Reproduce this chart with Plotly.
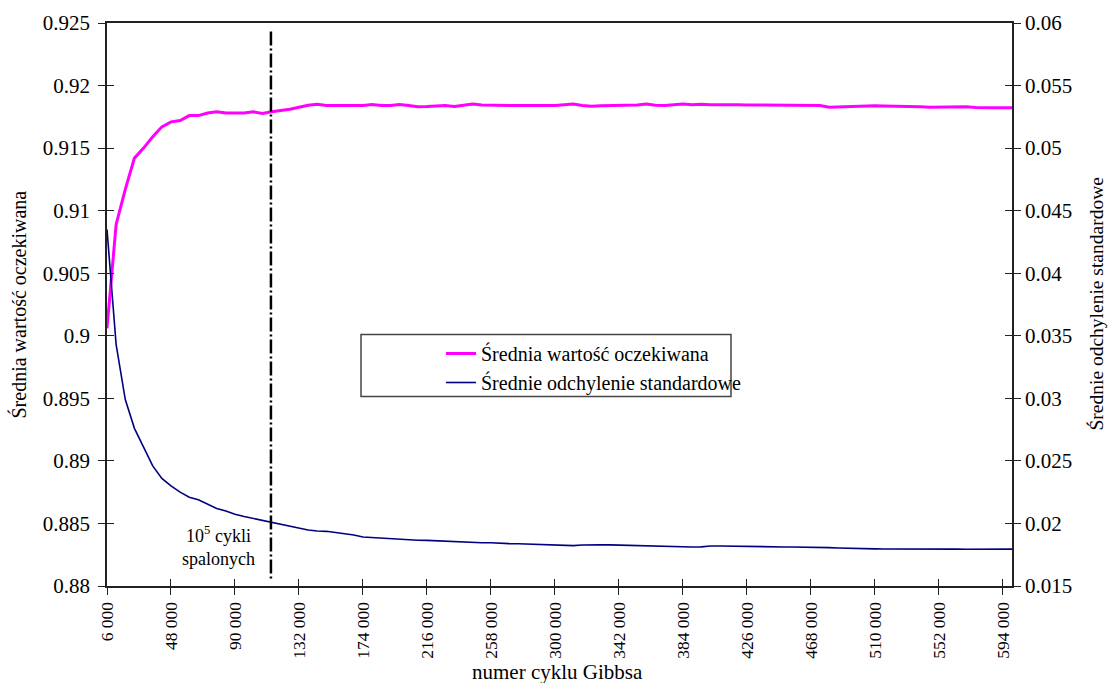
import plotly.graph_objects as go

# Gibbs sampler cycle numbers (every 6000 cycles)
cycles = list(range(6000, 600001, 6000))

# Mean of the expected value per cycle checkpoint
mean_expected = [
    0.9006, 0.9089, 0.9117, 0.9142, 0.9150, 0.9159, 0.9167, 0.9171, 0.9172, 0.9176,
    0.9176, 0.9178, 0.9179, 0.9178, 0.9178, 0.9178, 0.9179, 0.91776, 0.9179, 0.9180,
    0.9181, 0.91827, 0.91843, 0.9185, 0.9184, 0.9184, 0.9184, 0.91845, 0.9184, 0.91848,
    0.9184, 0.9184, 0.91848, 0.9184, 0.9183, 0.91832, 0.91838, 0.9184, 0.91832, 0.9184,
    0.91853, 0.91845, 0.91842, 0.91842, 0.9184, 0.9184, 0.91838, 0.9184, 0.9184, 0.9184,
    0.91845, 0.91853, 0.9184, 0.91835, 0.91838, 0.9184, 0.9184, 0.91843, 0.91845, 0.91853,
    0.91843, 0.9184, 0.91845, 0.91853, 0.91847, 0.9185, 0.91846, 0.91844, 0.91846, 0.91846,
    0.91845, 0.91845, 0.91843, 0.91843, 0.91842, 0.91842, 0.9184, 0.9184, 0.9184, 0.91826,
    0.91828, 0.91836, 0.91838, 0.9184, 0.91838, 0.91836, 0.91836, 0.91836, 0.91834, 0.9183,
    0.91826, 0.91826, 0.91828, 0.91832, 0.9183, 0.91824, 0.9182, 0.91822, 0.91822, 0.91822,
]

# Mean standard deviation per cycle checkpoint
mean_std = [
    0.0435, 0.0343, 0.0299, 0.0276, 0.0261, 0.0246, 0.0236, 0.0230, 0.0225, 0.0221,
    0.0219, 0.02154, 0.0212, 0.0210, 0.02074, 0.02055, 0.0204, 0.02026, 0.0201, 0.01994,
    0.01975, 0.01964, 0.01948, 0.0194, 0.01937, 0.01927, 0.01919, 0.01908, 0.01892, 0.01887,
    0.01886, 0.01876, 0.01871, 0.01869, 0.01866, 0.01865, 0.01862, 0.0186, 0.01858, 0.01849,
    0.01847, 0.01846, 0.01846, 0.01841, 0.01839, 0.01838, 0.01836, 0.01835, 0.01834, 0.01832,
    0.01828, 0.01823, 0.01828, 0.01831, 0.0183, 0.01829, 0.01827, 0.01826, 0.01822, 0.01818,
    0.01817, 0.01815, 0.01813, 0.01812, 0.01812, 0.01813, 0.0182, 0.0182, 0.01818, 0.01816,
    0.01815, 0.01815, 0.01814, 0.01813, 0.01812, 0.01812, 0.01812, 0.01811, 0.01809, 0.01807,
    0.01804, 0.01801, 0.01799, 0.01798, 0.01797, 0.01796, 0.01796, 0.01797, 0.018, 0.01801,
    0.018, 0.01798, 0.01797, 0.01795, 0.01794, 0.01794, 0.01794, 0.01794, 0.01794, 0.01795,
]

x_tick_vals = [6000, 48000, 90000, 132000, 174000, 216000, 258000, 300000,
               342000, 384000, 426000, 468000, 510000, 552000, 594000]
x_tick_text = ["6 000", "48 000", "90 000", "132 000", "174 000", "216 000", "258 000",
               "300 000", "342 000", "384 000", "426 000", "468 000", "510 000",
               "552 000", "594 000"]
left_ticks = [0.88, 0.885, 0.89, 0.895, 0.9, 0.905, 0.91, 0.915, 0.92, 0.925]
left_text = ["0.88", "0.885", "0.89", "0.895", "0.9", "0.905", "0.91", "0.915", "0.92", "0.925"]
right_ticks = [0.015, 0.02, 0.025, 0.03, 0.035, 0.04, 0.045, 0.05, 0.055, 0.06]
right_text = ["0.015", "0.02", "0.025", "0.03", "0.035", "0.04", "0.045", "0.05", "0.055", "0.06"]

burn_in_cycle = 113600

FONT = "Liberation Serif"
AX = "#222222"
X_RANGE = [6000, 600000]
L_RANGE = [0.88, 0.925]
R_RANGE = [0.015, 0.06]

fig = go.Figure()
fig.add_trace(go.Scatter(
    x=cycles, y=mean_expected, mode="lines", name="Średnia wartość oczekiwana",
    line=dict(color="#FF00FF", width=3), xaxis="x", yaxis="y",
))
fig.add_trace(go.Scatter(
    x=cycles, y=mean_std, mode="lines", name="Średnie odchylenie standardowe",
    line=dict(color="#000080", width=1.6), xaxis="x", yaxis="y2",
))
# empty traces that carry the inner halves of the crossing tick marks
fig.add_trace(go.Scatter(x=[None], y=[None], xaxis="x2", yaxis="y3", showlegend=False, hoverinfo="skip"))
fig.add_trace(go.Scatter(x=[None], y=[None], xaxis="x2", yaxis="y4", showlegend=False, hoverinfo="skip"))

tick_font = dict(family=FONT, size=21, color="black")

fig.update_layout(
    width=1108, height=683,
    margin=dict(l=107, r=96, t=23, b=97),
    paper_bgcolor="white", plot_bgcolor="white",
    font=dict(family=FONT, color="black"),
    showlegend=True,
    legend=dict(
        x=(441 - 107) / 905, y=(586 - 334) / 563, xanchor="left", yanchor="top",
        bgcolor="rgba(0,0,0,0)", borderwidth=0,
        font=dict(family=FONT, size=20, color="black"),
        tracegroupgap=0,
    ),
    xaxis=dict(
        range=X_RANGE, tickmode="array", tickvals=x_tick_vals, ticktext=x_tick_text,
        tickangle=-90, tickfont=dict(family=FONT, size=17.5, color="black"),
        ticks="outside", ticklen=7, tickwidth=1.3, tickcolor=AX,
        showline=True, linecolor=AX, linewidth=1.8, mirror=True,
        showgrid=False, zeroline=False,
    ),
    xaxis2=dict(
        range=X_RANGE, overlaying="x", anchor="y3", tickmode="array", tickvals=x_tick_vals,
        ticks="inside", ticklen=7, tickwidth=1.3, tickcolor=AX,
        showticklabels=False, showline=False, showgrid=False, zeroline=False,
    ),
    yaxis=dict(
        range=L_RANGE, tickmode="array", tickvals=left_ticks, ticktext=left_text,
        tickfont=tick_font, ticks="outside", ticklen=7, tickwidth=1.3, tickcolor=AX,
        ticklabelstandoff=4,
        showline=True, linecolor=AX, linewidth=1.8, showgrid=False, zeroline=False,
    ),
    yaxis2=dict(
        range=R_RANGE, overlaying="y", side="right", tickmode="array",
        tickvals=right_ticks, ticktext=right_text,
        tickfont=tick_font, ticks="outside", ticklen=7, tickwidth=1.3, tickcolor=AX,
        showline=True, linecolor=AX, linewidth=1.8, showgrid=False, zeroline=False,
    ),
    yaxis3=dict(
        range=L_RANGE, overlaying="y", side="left", anchor="x2", tickmode="array",
        tickvals=left_ticks, ticks="inside", ticklen=7, tickwidth=1.3, tickcolor=AX,
        showticklabels=False, showline=False, showgrid=False, zeroline=False,
    ),
    yaxis4=dict(
        range=R_RANGE, overlaying="y", side="right", anchor="x2", tickmode="array",
        tickvals=right_ticks, ticks="inside", ticklen=7, tickwidth=1.3, tickcolor=AX,
        showticklabels=False, showline=False, showgrid=False, zeroline=False,
    ),
)

# burn-in boundary
fig.add_shape(
    type="line", xref="x", yref="paper", x0=burn_in_cycle, x1=burn_in_cycle,
    y0=(586 - 31.5) / 563, y1=(586 - 580) / 563,
    line=dict(color="black", width=2.5, dash="14px,3px,2px,3px"),
)

# legend frame
fig.add_shape(
    type="rect", xref="paper", yref="paper",
    x0=(361 - 107) / 905, x1=(731 - 107) / 905,
    y0=(586 - 396.5) / 563, y1=(586 - 334.5) / 563,
    line=dict(color="#444444", width=1.5), fillcolor="rgba(0,0,0,0)",
)

fig.add_annotation(
    text="10<sup>5</sup> cykli<br>spalonych", xref="paper", yref="paper",
    x=(218 - 107) / 905, y=(586 - 546) / 563, xanchor="center", yanchor="middle",
    showarrow=False, font=dict(family=FONT, size=18, color="black"), align="center",
)

# axis titles
fig.add_annotation(
    text="Średnia wartość oczekiwana", xref="paper", yref="paper",
    x=(18 - 107) / 905, y=0.5, xanchor="center", yanchor="middle", textangle=-90,
    showarrow=False, font=dict(family=FONT, size=20, color="black"),
)
fig.add_annotation(
    text="Średnie odchylenie standardowe", xref="paper", yref="paper",
    x=(1096 - 107) / 905, y=0.5, xanchor="center", yanchor="middle", textangle=-90,
    showarrow=False, font=dict(family=FONT, size=19.5, color="black"),
)
fig.add_annotation(
    text="numer cyklu Gibbsa", xref="paper", yref="paper",
    x=(557 - 107) / 905, y=(586 - 672) / 563, xanchor="center", yanchor="middle",
    showarrow=False, font=dict(family=FONT, size=21, color="black"),
)

fig.write_html("out.html")
